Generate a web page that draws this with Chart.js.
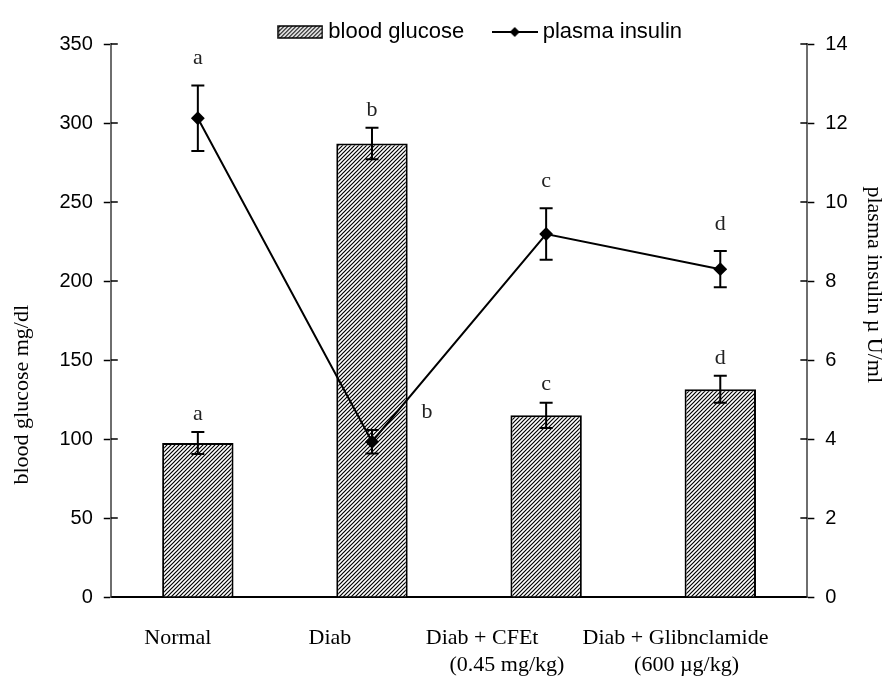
<!DOCTYPE html>
<html><head><meta charset="utf-8">
<script src="https://cdn.jsdelivr.net/npm/chart.js@4/dist/chart.umd.min.js"></script>
<style>html,body{margin:0;padding:0;background:#fff}#wrap{width:887px;height:679px;position:relative}</style>
</head><body><div id="wrap"><canvas id="c"></canvas></div>
<script>
// ---- data ----
const categories = ['Normal', 'Diab', ['Diab + CFEt', '(0.45 mg/kg)'], ['Diab + Glibnclamide', '(600 µg/kg)']];
const glucose = [97.5, 287, 115, 131.5];
const glucoseSE = [7, 10, 8, 8.5];
const insulin = [12.12, 3.93, 9.19, 8.3];
const insulinSE = [0.83, 0.3, 0.65, 0.46];
const glucoseLetters = ['a', 'b', 'c', 'd'];
const insulinLetters = ['a', 'b', 'c', 'd'];
const glucoseAxis = { min: 0, max: 350, step: 50 };
const insulinAxis = { min: 0, max: 14, step: 2 };

// ---- styling helpers (not data) ----
const labelLead = [[8], [0], [0, 1], [0, 3]];
const labelTrail = [[0], [0], [8, 0], [1, 0]];
const insulinLetterPlace = ['above', 'right', 'above', 'above'];

function makeHatch() {
  const s = 4, c = document.createElement('canvas');
  c.width = s; c.height = s;
  const x = c.getContext('2d');
  x.fillStyle = '#fff'; x.fillRect(0, 0, s, s);
  x.strokeStyle = '#000'; x.lineWidth = 1.2;
  x.beginPath();
  x.moveTo(0, s); x.lineTo(s, 0);
  x.moveTo(-1, 1); x.lineTo(1, -1);
  x.moveTo(s - 1, s + 1); x.lineTo(s + 1, s - 1);
  x.stroke();
  return x.createPattern(c, 'repeat');
}
const ctx = document.getElementById('c').getContext('2d');
const hatch = makeHatch();

function legendBarIcon() {
  const c = document.createElement('canvas'); c.width = 46; c.height = 14;
  const x = c.getContext('2d');
  x.fillStyle = hatch; x.fillRect(1, 1, 44, 12);
  x.strokeStyle = '#000'; x.lineWidth = 1.5; x.strokeRect(1, 1, 44, 12);
  return c;
}
function legendLineIcon() {
  const c = document.createElement('canvas'); c.width = 46; c.height = 14;
  const x = c.getContext('2d');
  x.strokeStyle = '#000'; x.lineWidth = 2;
  x.beginPath(); x.moveTo(0, 7); x.lineTo(46, 7); x.stroke();
  x.fillStyle = '#000'; x.beginPath();
  x.moveTo(23, 2); x.lineTo(28, 7); x.lineTo(23, 12); x.lineTo(18, 7); x.closePath(); x.fill();
  return c;
}

// trims the fixed bottom margin Chart.js adds under a top legend
const legendTight = {
  id: 'legendTight',
  beforeLayout(chart) {
    const lg = chart.legend;
    if (lg && !lg._tight) {
      const f = lg.fit.bind(lg);
      lg.fit = function () { f(); this.height -= 9; };
      lg._tight = true;
    }
  }
};

const innerTicks = {
  id: 'innerTicks',
  afterDraw(chart) {
    const c = chart.ctx;
    c.save(); c.strokeStyle = '#000'; c.lineWidth = 1.5;
    ['y', 'y1'].forEach(id => {
      const sc = chart.scales[id];
      sc.ticks.forEach((t, i) => {
        const py = sc.getPixelForTick(i);
        const ax = id === 'y' ? sc.right : sc.left;
        const dir = id === 'y' ? 1 : -1;
        c.beginPath(); c.moveTo(ax, py); c.lineTo(ax + dir * 7, py); c.stroke();
      });
    });
    c.restore();
  }
};

const errorBars = {
  id: 'errorBars',
  afterDatasetsDraw(chart) {
    const c = chart.ctx;
    c.save(); c.strokeStyle = '#000'; c.lineWidth = 2;
    chart.data.datasets.forEach((ds, di) => {
      if (!ds.errors) return;
      const meta = chart.getDatasetMeta(di);
      const sc = chart.scales[ds.yAxisID];
      meta.data.forEach((el, i) => {
        const v = ds.data[i], e = ds.errors[i];
        const yt = sc.getPixelForValue(v + e), yb = sc.getPixelForValue(v - e);
        const x = el.x, w = 6.5;
        c.beginPath();
        c.moveTo(x, yt); c.lineTo(x, yb);
        c.moveTo(x - w, yt); c.lineTo(x + w, yt);
        c.moveTo(x - w, yb); c.lineTo(x + w, yb);
        c.stroke();
      });
    });
    // significance letters
    c.fillStyle = '#222';
    c.font = '22px "Liberation Serif", "Times New Roman", serif';
    c.textAlign = 'center'; c.textBaseline = 'middle';
    chart.data.datasets.forEach((ds, di) => {
      if (!ds.letters) return;
      const meta = chart.getDatasetMeta(di);
      const sc = chart.scales[ds.yAxisID];
      meta.data.forEach((el, i) => {
        const v = ds.data[i], e = ds.errors[i];
        const yt = sc.getPixelForValue(v + e);
        const place = ds.letterPlace ? ds.letterPlace[i] : 'above';
        if (place === 'right') {
          c.fillText(ds.letters[i], el.x + 55, sc.getPixelForValue(v) - 30);
        } else {
          c.fillText(ds.letters[i], el.x, yt - ds.letterGap);
        }
      });
    });
    c.restore();
  }
};

new Chart(ctx, {
  data: {
    labels: categories,
    datasets: [
      {
        type: 'bar', label: 'blood glucose', data: glucose, errors: glucoseSE,
        letters: glucoseLetters, letterGap: 18,
        yAxisID: 'y', backgroundColor: hatch, borderColor: '#000', borderWidth: 2,
        barPercentage: 0.41, categoryPercentage: 1.0, order: 2
      },
      {
        type: 'line', label: 'plasma insulin', data: insulin, errors: insulinSE,
        letters: insulinLetters, letterGap: 27, letterPlace: insulinLetterPlace,
        yAxisID: 'y1', borderColor: '#000', borderWidth: 2, tension: 0,
        pointStyle: 'rectRot', pointRadius: 5.5, pointBackgroundColor: '#000', pointBorderColor: '#000',
        order: 1
      }
    ]
  },
  options: {
    responsive: true, maintainAspectRatio: false, animation: false, devicePixelRatio: 1,
    layout: { padding: { top: 18, left: 0, right: 0, bottom: 0 } },
    plugins: {
      tooltip: { enabled: false },
      legend: {
        position: 'top', fullSize: false, align: 'end',
        labels: {
          usePointStyle: true, pointStyleWidth: 34, boxHeight: 14, padding: 3,
          color: '#000', font: { family: '"Liberation Sans", Arial, sans-serif', size: 22 },
          generateLabels() {
            return [
              { text: 'blood glucose' + ' '.repeat(5), pointStyle: legendBarIcon(), fillStyle: '#000', strokeStyle: '#000', lineWidth: 0, datasetIndex: 0 },
              { text: 'plasma insulin' + ' '.repeat(20), pointStyle: legendLineIcon(), fillStyle: '#000', strokeStyle: '#000', lineWidth: 0, datasetIndex: 1 }
            ];
          }
        }
      }
    },
    scales: {
      x: {
        type: 'category', offset: true,
        afterFit(scale) { scale.height = 82; },
        grid: { display: false, drawTicks: false },
        border: { display: true, color: '#000', width: 2 },
        ticks: {
          padding: 28, labelOffset: -42, maxRotation: 0, autoSkip: false, color: '#000',
          font: { family: '"Liberation Serif", "Times New Roman", serif', size: 22, lineHeight: 1.23 },
          callback(value, index) {
            const lab = categories[index];
            const lines = Array.isArray(lab) ? lab : [lab];
            return lines.map((t, j) => ' '.repeat(labelLead[index][j]) + t + ' '.repeat(labelTrail[index][j]));
          }
        }
      },
      y: {
        position: 'left', min: glucoseAxis.min, max: glucoseAxis.max,
        grid: { drawOnChartArea: false, tickLength: 7, tickColor: '#000', tickWidth: 1.5 },
        border: { color: '#6e6e6e', width: 2 },
        ticks: { stepSize: glucoseAxis.step, padding: 11, color: '#000',
          font: { family: '"Liberation Sans", Arial, sans-serif', size: 20 } },
        title: {
          display: true, text: 'blood glucose mg/dl' + ' '.repeat(27), color: '#000',
          padding: { top: 9, bottom: 13 },
          font: { family: '"Liberation Serif", "Times New Roman", serif', size: 22 }
        }
      },
      y1: {
        position: 'right', min: insulinAxis.min, max: insulinAxis.max,
        grid: { drawOnChartArea: false, tickLength: 7, tickColor: '#000', tickWidth: 1.5 },
        border: { color: '#6e6e6e', width: 2 },
        ticks: { stepSize: insulinAxis.step, padding: 11, color: '#000',
          font: { family: '"Liberation Sans", Arial, sans-serif', size: 20 } },
        title: {
          display: true, text: 'plasma insulin µ U/ml' + ' '.repeat(13), color: '#000',
          padding: { top: 0, bottom: 2 },
          font: { family: '"Liberation Serif", "Times New Roman", serif', size: 22 }
        }
      }
    }
  },
  plugins: [legendTight, innerTicks, errorBars]
});
</script>
</body></html>
